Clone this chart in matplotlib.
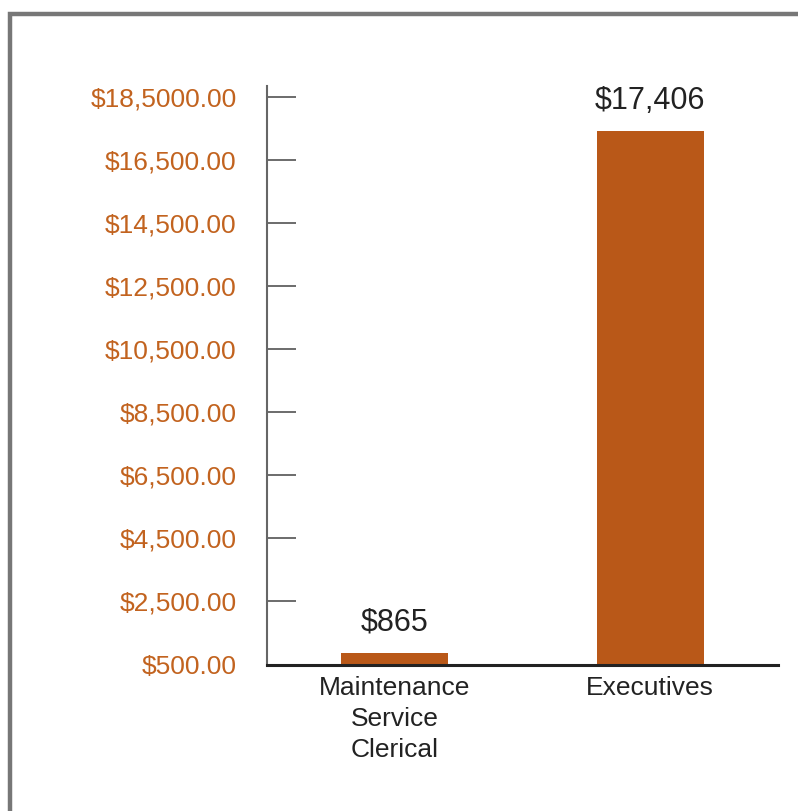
import matplotlib
matplotlib.use("Agg")
import matplotlib.pyplot as plt
from matplotlib.patches import Rectangle

plt.rcParams['font.family'] = ['Liberation Sans', 'DejaVu Sans']

categories = ["Maintenance\nService\nClerical", "Executives"]
values = [865, 17406]
value_labels = ["$865", "$17,406"]
ytick_values = [500, 2500, 4500, 6500, 8500, 10500, 12500, 14500, 16500, 18500]
ytick_labels = ["$500.00", "$2,500.00", "$4,500.00", "$6,500.00", "$8,500.00",
                "$10,500.00", "$12,500.00", "$14,500.00", "$16,500.00", "$18,5000.00"]

bar_color = "#b95818"
label_color = "#c2631f"

fig = plt.figure(figsize=(7.98, 8.11), dpi=100)

# grey frame, only left and top edges visible
frame = Rectangle((0.0125, -0.05), 1.1, 0.983 + 0.05, transform=fig.transFigure,
                  fill=False, edgecolor="#777777", linewidth=3.2, zorder=0)
fig.patches.append(frame)

ax = fig.add_axes([0.3346, 0.1806, 0.6404, 0.7133])

x = list(range(len(categories)))
ax.bar(x, values, width=0.42, color=bar_color, bottom=0, zorder=2)

for xi, v, txt in zip(x, values, value_labels):
    ax.annotate(txt, (xi, v), xytext=(0, 16), textcoords="offset points",
                ha="center", va="baseline", fontsize=22, color="#222222")

ax.set_xlim(-0.5, 1.5)
ax.set_ylim(500, 18833)

ax.set_yticks(ytick_values)
ax.set_yticklabels(ytick_labels, color=label_color, fontsize=19)
ax.tick_params(axis="y", direction="in", length=21, width=1.1, color="#444444", pad=22)

ax.set_xticks(x)
ax.set_xticklabels(categories, fontsize=19, color="#222222", linespacing=1.38)
ax.tick_params(axis="x", length=0, pad=8)

for side in ["top", "right"]:
    ax.spines[side].set_visible(False)
ax.spines["left"].set_color("#666666")
ax.spines["left"].set_linewidth(1.5)
ax.spines["bottom"].set_color("#222222")
ax.spines["bottom"].set_linewidth(2.2)

fig.savefig("out.png", dpi=100)
